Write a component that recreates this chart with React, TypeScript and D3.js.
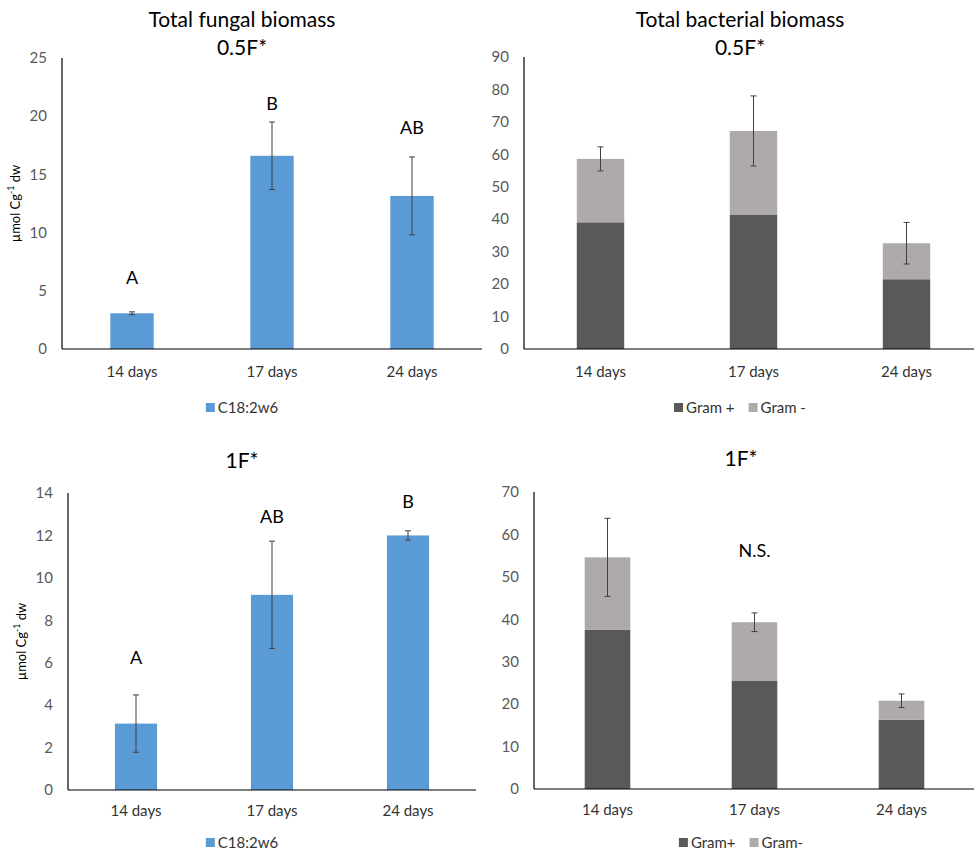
import { useEffect, useRef } from 'react';
import * as d3 from 'd3';

// categories
const DAYS = ['14 days', '17 days', '24 days'];

// fungal biomass, C18:2w6 (µmol C g-1 dw)
const FUNGAL_05 = [3.07, 16.6, 13.15];
const FUNGAL_05_ERR = [0.12, 2.9, 3.35];
const FUNGAL_05_LETTERS = ['A', 'B', 'AB'];
const FUNGAL_05_LETTER_AT = [6.1, 21.1, 19.0];

const FUNGAL_1 = [3.13, 9.2, 12.0];
const FUNGAL_1_ERR = [1.35, 2.53, 0.22];
const FUNGAL_1_LETTERS = ['A', 'AB', 'B'];
const FUNGAL_1_LETTER_AT = [6.24, 12.9, 13.57];

// bacterial biomass, stacked Gram+ / Gram-
const BACT_05_POS = [39.05, 41.3, 21.5];
const BACT_05_NEG = [19.55, 25.9, 11.1];
const BACT_05_ERR = [3.7, 10.8, 6.4];

const BACT_1_POS = [37.5, 25.45, 16.3];
const BACT_1_NEG = [17.1, 13.85, 4.5];
const BACT_1_ERR = [9.2, 2.2, 1.6];

const BLUE = '#5b9bd5';
const DARK = '#595959';
const LIGHT = '#aeaaaa';
const FONT = 'Lato, "Open Sans", sans-serif';

type Series = { name: string; values: number[]; color: string };

type PanelProps = {
  x0: number; x1: number; yTop: number; yBottom: number;
  yMax: number; yStep: number; cx: number;
  titles: { text: string; y: number }[];
  series: Series[];
  errors: number[];
  letters?: string[]; letterAt?: number[];
  note?: { text: string; at: number; index: number };
  xLabelY: number; legendY: number; legendLabels: string[];
  yTitle?: boolean;
};

function Panel(p: PanelProps) {
  const ref = useRef<SVGGElement>(null);

  useEffect(() => {
    const g = d3.select(ref.current);
    g.selectAll('*').remove();

    const x = d3.scaleBand<string>().domain(DAYS).range([p.x0, p.x1])
      .paddingInner(0.69).paddingOuter(0.345);
    const y = d3.scaleLinear().domain([0, p.yMax]).range([p.yBottom, p.yTop]);

    // titles
    p.titles.forEach(t => {
      g.append('text').text(t.text)
        .attr('x', p.cx).attr('y', t.y)
        .attr('text-anchor', 'middle')
        .attr('font-size', 21).attr('fill', '#000');
    });

    // y ticks
    const ticks = d3.range(0, p.yMax + 0.001, p.yStep);
    g.selectAll('.yt').data(ticks).enter().append('text')
      .attr('x', p.x0 - 15).attr('y', d => y(d))
      .attr('dy', '0.35em').attr('text-anchor', 'end')
      .attr('font-size', 15).attr('fill', DARK)
      .text(d => d);

    // stacked bars
    const stackData = DAYS.map((d, i) => {
      const row: Record<string, number | string> = { day: d };
      p.series.forEach(s => { row[s.name] = s.values[i]; });
      return row;
    });
    const stack = d3.stack<Record<string, number | string>>().keys(p.series.map(s => s.name));
    const layers = stack(stackData as any);
    layers.forEach((layer, li) => {
      g.selectAll('.b' + li).data(layer).enter().append('rect')
        .attr('x', d => x(d.data.day as string)!)
        .attr('width', x.bandwidth())
        .attr('y', d => y(d[1]))
        .attr('height', d => y(d[0]) - y(d[1]))
        .attr('fill', p.series[li].color);
    });

    // error bars on total
    const totals = DAYS.map((_, i) => d3.sum(p.series, s => s.values[i]));
    DAYS.forEach((d, i) => {
      const cxb = x(d)! + x.bandwidth() / 2;
      const lo = y(totals[i] - p.errors[i]);
      const hi = y(totals[i] + p.errors[i]);
      const eb = g.append('g').attr('stroke', '#404040').attr('stroke-width', 1);
      eb.append('line').attr('x1', cxb).attr('x2', cxb).attr('y1', lo).attr('y2', hi);
      eb.append('line').attr('x1', cxb - 3).attr('x2', cxb + 3).attr('y1', lo).attr('y2', lo);
      eb.append('line').attr('x1', cxb - 3).attr('x2', cxb + 3).attr('y1', hi).attr('y2', hi);
    });

    // axes lines
    g.append('line').attr('x1', p.x0).attr('x2', p.x0)
      .attr('y1', p.yTop).attr('y2', p.yBottom)
      .attr('stroke', '#000').attr('stroke-width', 1.2);
    g.append('line').attr('x1', p.x0).attr('x2', Math.min(p.x1, 974))
      .attr('y1', p.yBottom).attr('y2', p.yBottom)
      .attr('stroke', '#000').attr('stroke-width', 1.2);

    // x labels
    g.selectAll('.xl').data(DAYS).enter().append('text')
      .attr('x', d => x(d)! + x.bandwidth() / 2).attr('y', p.xLabelY)
      .attr('dy', '0.35em').attr('text-anchor', 'middle')
      .attr('font-size', 15).attr('fill', '#333')
      .text(d => d);

    // significance letters
    if (p.letters && p.letterAt) {
      p.letters.forEach((l, i) => {
        g.append('text').text(l)
          .attr('x', x(DAYS[i])! + x.bandwidth() / 2).attr('y', y(p.letterAt![i]))
          .attr('dy', '0.35em').attr('text-anchor', 'middle')
          .attr('font-size', 18).attr('fill', '#000');
      });
    }
    if (p.note) {
      g.append('text').text(p.note.text)
        .attr('x', x(DAYS[p.note.index])! + x.bandwidth() / 2).attr('y', y(p.note.at))
        .attr('dy', '0.35em').attr('text-anchor', 'middle')
        .attr('font-size', 18).attr('fill', '#000');
    }

    // y title
    if (p.yTitle) {
      const ty = g.append('text')
        .attr('transform', `translate(${p.x0 - 42},${(p.yTop + p.yBottom) / 2}) rotate(-90)`)
        .attr('text-anchor', 'middle').attr('font-size', 13).attr('fill', '#000');
      ty.append('tspan').text('µmol Cg');
      ty.append('tspan').text('-1').attr('font-size', 9).attr('dy', -6);
      ty.append('tspan').text(' dw').attr('dy', 6);
    }

    // legend
    const lg = g.append('g');
    let cur = 0;
    p.series.forEach((s, i) => {
      const it = lg.append('g').attr('transform', `translate(${cur},0)`);
      it.append('rect').attr('x', 0).attr('y', -5).attr('width', 9).attr('height', 9).attr('fill', s.color);
      const t = it.append('text').text(p.legendLabels[i])
        .attr('x', 12).attr('dy', '0.35em')
        .attr('font-size', 15).attr('fill', '#333');
      const w = (t.node() as SVGTextElement).getComputedTextLength();
      cur += 12 + w + 14;
    });
    const total = cur - 14;
    lg.attr('transform', `translate(${p.cx - total / 2},${p.legendY})`);
  }, [p]);

  return <g ref={ref} />;
}

export default function App() {
  return (
    <svg width={974} height={852} style={{ position: 'absolute', left: 0, top: 0, background: '#fff' }}
      fontFamily={FONT}>
      <rect width={974} height={852} fill="#fff" />
      <Panel
        x0={62} x1={482} yTop={58} yBottom={349} yMax={25} yStep={5} cx={242}
        titles={[{ text: 'Total fungal biomass', y: 27 }, { text: '0.5F*', y: 55 }]}
        series={[{ name: 'C18:2w6', values: FUNGAL_05, color: BLUE }]}
        errors={FUNGAL_05_ERR} letters={FUNGAL_05_LETTERS} letterAt={FUNGAL_05_LETTER_AT}
        xLabelY={372} legendY={408} legendLabels={['C18:2w6']} yTitle
      />
      <Panel
        x0={524} x1={983} yTop={57} yBottom={349} yMax={90} yStep={10} cx={740}
        titles={[{ text: 'Total bacterial biomass', y: 27 }, { text: '0.5F*', y: 55 }]}
        series={[{ name: 'pos', values: BACT_05_POS, color: DARK }, { name: 'neg', values: BACT_05_NEG, color: LIGHT }]}
        errors={BACT_05_ERR}
        xLabelY={372} legendY={408} legendLabels={['Gram +', 'Gram -']}
      />
      <Panel
        x0={68} x1={476} yTop={493} yBottom={790} yMax={14} yStep={2} cx={242}
        titles={[{ text: '1F*', y: 468 }]}
        series={[{ name: 'C18:2w6', values: FUNGAL_1, color: BLUE }]}
        errors={FUNGAL_1_ERR} letters={FUNGAL_1_LETTERS} letterAt={FUNGAL_1_LETTER_AT}
        xLabelY={811} legendY={843} legendLabels={['C18:2w6']} yTitle
      />
      <Panel
        x0={534} x1={975} yTop={492} yBottom={789} yMax={70} yStep={10} cx={741}
        titles={[{ text: '1F*', y: 466 }]}
        series={[{ name: 'pos', values: BACT_1_POS, color: DARK }, { name: 'neg', values: BACT_1_NEG, color: LIGHT }]}
        errors={BACT_1_ERR} note={{ text: 'N.S.', at: 56.1, index: 1 }}
        xLabelY={810} legendY={843} legendLabels={['Gram+', 'Gram-']}
      />
    </svg>
  );
}
